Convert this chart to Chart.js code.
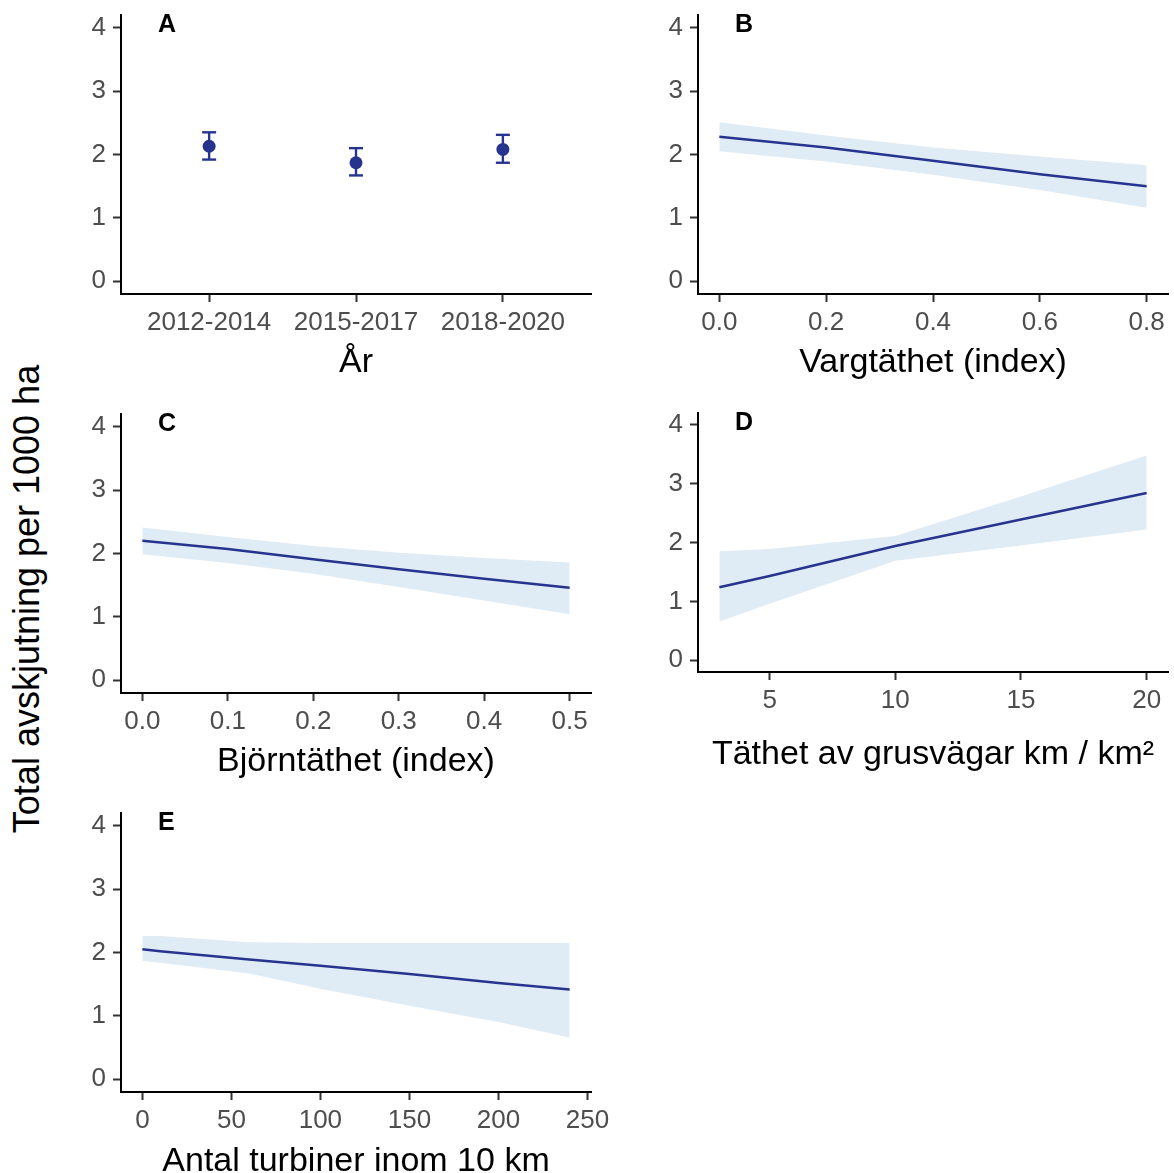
<!DOCTYPE html>
<html>
<head>
<meta charset="utf-8">
<script src="https://cdn.jsdelivr.net/npm/chart.js@4.4.1/dist/chart.umd.min.js"></script>
<style>
  html, body { margin:0; padding:0; background:#fff; overflow:hidden; width:1174px; height:1173px; }
  canvas { position:absolute; }
  #ytitle { position:absolute; left:27px; top:599px; transform:translate(-50%,-50%) rotate(-90deg); font-family:'Liberation Sans', Arial, sans-serif; font-size:36px; color:#000; white-space:nowrap; }
</style>
</head>
<body>
<div id="ytitle">Total avskjutning per 1000 ha</div>
<canvas id="cA"></canvas>
<canvas id="cB"></canvas>
<canvas id="cC"></canvas>
<canvas id="cD"></canvas>
<canvas id="cE"></canvas>
<script>
// ---------- DATA ----------
const yTicks = [0, 1, 2, 3, 4];

// Panel A: year periods
const yearCategories = ['2012-2014', '2015-2017', '2018-2020'];
const yearMean  = [2.13, 1.87, 2.08];
const yearLower = [1.92, 1.67, 1.87];
const yearUpper = [2.35, 2.10, 2.31];

// Panel B: wolf density
const wolfX     = [0, 0.2, 0.4, 0.6, 0.8];
const wolfFit   = [2.28, 2.11, 1.90, 1.69, 1.50];
const wolfUpper = [2.51, 2.30, 2.11, 1.97, 1.83];
const wolfLower = [2.05, 1.89, 1.68, 1.44, 1.16];
const wolfTicks = [0, 0.2, 0.4, 0.6, 0.8];

// Panel C: bear density
const bearX     = [0, 0.1, 0.2, 0.3, 0.4, 0.5];
const bearFit   = [2.20, 2.07, 1.91, 1.75, 1.60, 1.46];
const bearUpper = [2.41, 2.26, 2.12, 2.01, 1.93, 1.86];
const bearLower = [1.99, 1.85, 1.68, 1.47, 1.26, 1.04];
const bearTicks = [0, 0.1, 0.2, 0.3, 0.4, 0.5];

// Panel D: gravel road density
const roadX     = [3, 5, 10, 15, 20];
const roadFit   = [1.24, 1.43, 1.94, 2.39, 2.84];
const roadUpper = [1.85, 1.89, 2.11, 2.78, 3.48];
const roadLower = [0.66, 0.96, 1.69, 1.95, 2.22];
const roadTicks = [5, 10, 15, 20];

// Panel E: wind turbines within 10 km
const turbX     = [0, 10, 60, 100, 150, 200, 240];
const turbFit   = [2.05, 2.02, 1.89, 1.79, 1.66, 1.52, 1.415];
const turbUpper = [2.26, 2.26, 2.16, 2.15, 2.15, 2.15, 2.15];
const turbLower = [1.865, 1.84, 1.67, 1.43, 1.16, 0.905, 0.66];
const turbTicks = [0, 50, 100, 150, 200, 250];

// ---------- STYLE ----------
const FONT = "'Liberation Sans', Arial, sans-serif";
const DARK = '#27348F';
const RIBBON = '#DFEBF5';
Chart.defaults.font.family = FONT;
Chart.defaults.animation = false;

const letterPlugin = {
  id: 'panelLetter',
  afterDraw(chart, args, opts) {
    const ctx = chart.ctx, a = chart.chartArea;
    ctx.save();
    ctx.font = 'bold 25px ' + FONT;
    ctx.fillStyle = '#000';
    ctx.textBaseline = 'top';
    ctx.textAlign = 'left';
    ctx.fillText(opts.text, a.left + 37, a.top - 2);
    ctx.restore();
  }
};

function zip(xs, ys) { return xs.map((x, i) => ({x: x, y: ys[i]})); }

function ribbonDatasets(xs, fit, up, lo) {
  return [
    { data: zip(xs, fit), order: 0, borderWidth: 2.5, pointRadius: 0, fill: false, borderColor: DARK, tension: 0 },
    { data: zip(xs, up), order: 1, borderWidth: 0, pointRadius: 0, fill: '+1', backgroundColor: RIBBON, borderColor: RIBBON, tension: 0 },
    { data: zip(xs, lo), order: 2, borderWidth: 0, pointRadius: 0, fill: false, borderColor: RIBBON, tension: 0 }
  ];
}

function makePanel(id, box, area, cfg) {
  const cv = document.getElementById(id);
  cv.width = box.w; cv.height = box.h;
  cv.style.left = box.l + 'px'; cv.style.top = box.t + 'px';
  cv.style.width = box.w + 'px'; cv.style.height = box.h + 'px';
  const yW = area.l - box.l;
  const xH = box.t + box.h - area.b;
  new Chart(cv, {
    type: 'line',
    data: { datasets: cfg.datasets },
    options: {
      responsive: false,
      animation: false,
      events: [],
      layout: { padding: { left: 0, top: area.t - box.t, right: box.l + box.w - area.r, bottom: 0 } },
      plugins: { legend: { display: false }, tooltip: { enabled: false }, panelLetter: { text: cfg.letter } },
      scales: {
        x: {
          type: 'linear', min: cfg.xMin, max: cfg.xMax,
          afterBuildTicks: s => { s.ticks = cfg.xTicks.map(v => ({value: v})); },
          afterFit: s => { s.height = xH; },
          ticks: { color: '#4D4D4D', font: { size: 26 }, padding: 5, maxRotation: 0, autoSkip: false, callback: cfg.xLabel },
          grid: { drawOnChartArea: false, drawTicks: true, tickLength: 8, tickWidth: 2, tickColor: '#333333' },
          border: { display: true, color: '#000', width: 2 },
          title: { display: true, text: cfg.xTitle, color: '#000', font: { size: 34 }, padding: { top: 0, bottom: cfg.titlePad } }
        },
        y: {
          type: 'linear', min: -0.2, max: 4.2,
          afterBuildTicks: s => { s.ticks = yTicks.map(v => ({value: v})); },
          afterFit: s => { s.width = yW; },
          ticks: { color: '#4D4D4D', font: { size: 26 }, padding: 7, callback: v => String(v) },
          grid: { drawOnChartArea: false, drawTicks: true, tickLength: 8, tickWidth: 2, tickColor: '#333333' },
          border: { display: true, color: '#000', width: 2 }
        }
      }
    },
    plugins: [letterPlugin]
  });
}

// Panel A datasets
const aDatasets = [];
yearCategories.forEach((c, i) => {
  aDatasets.push({ data: [{x: i, y: yearLower[i]}, {x: i, y: yearUpper[i]}], borderColor: DARK, borderWidth: 2.4,
    pointStyle: 'line', pointRadius: 7, pointBorderWidth: 2.4, pointBorderColor: DARK, fill: false });
});
aDatasets.push({ data: yearMean.map((m, i) => ({x: i, y: m})), showLine: false, pointRadius: 6.5, pointBackgroundColor: DARK, pointBorderColor: DARK, pointBorderWidth: 0 });

makePanel('cA', {l: 60, t: -30, w: 600, h: 420}, {l: 121, t: 15, r: 591, b: 294}, {
  datasets: aDatasets, letter: 'A', xMin: -0.6, xMax: 2.6, xTicks: [0, 1, 2],
  xLabel: v => yearCategories[v], xTitle: 'År', titlePad: 7
});
makePanel('cB', {l: 640, t: -30, w: 580, h: 420}, {l: 698, t: 15, r: 1168, b: 294}, {
  datasets: ribbonDatasets(wolfX, wolfFit, wolfUpper, wolfLower), letter: 'B', xMin: -0.04, xMax: 0.84, xTicks: wolfTicks,
  xLabel: v => v.toFixed(1), xTitle: 'Vargtäthet (index)', titlePad: 7
});
makePanel('cC', {l: 60, t: 369, w: 600, h: 421}, {l: 121, t: 414, r: 591, b: 693}, {
  datasets: ribbonDatasets(bearX, bearFit, bearUpper, bearLower), letter: 'C', xMin: -0.025, xMax: 0.525, xTicks: bearTicks,
  xLabel: v => v.toFixed(1), xTitle: 'Björntäthet (index)', titlePad: 8
});
makePanel('cD', {l: 640, t: 368, w: 580, h: 414}, {l: 698, t: 413, r: 1168, b: 672}, {
  datasets: ribbonDatasets(roadX, roadFit, roadUpper, roadLower), letter: 'D', xMin: 2.15, xMax: 20.85, xTicks: roadTicks,
  xLabel: v => String(v), xTitle: 'Täthet av grusvägar km / km²', titlePad: 7
});
makePanel('cE', {l: 60, t: 768, w: 600, h: 422}, {l: 121, t: 813, r: 591, b: 1092}, {
  datasets: ribbonDatasets(turbX, turbFit, turbUpper, turbLower), letter: 'E', xMin: -12, xMax: 252, xTicks: turbTicks,
  xLabel: v => String(v), xTitle: 'Antal turbiner inom 10 km', titlePad: 8
});
</script>
</body>
</html>
